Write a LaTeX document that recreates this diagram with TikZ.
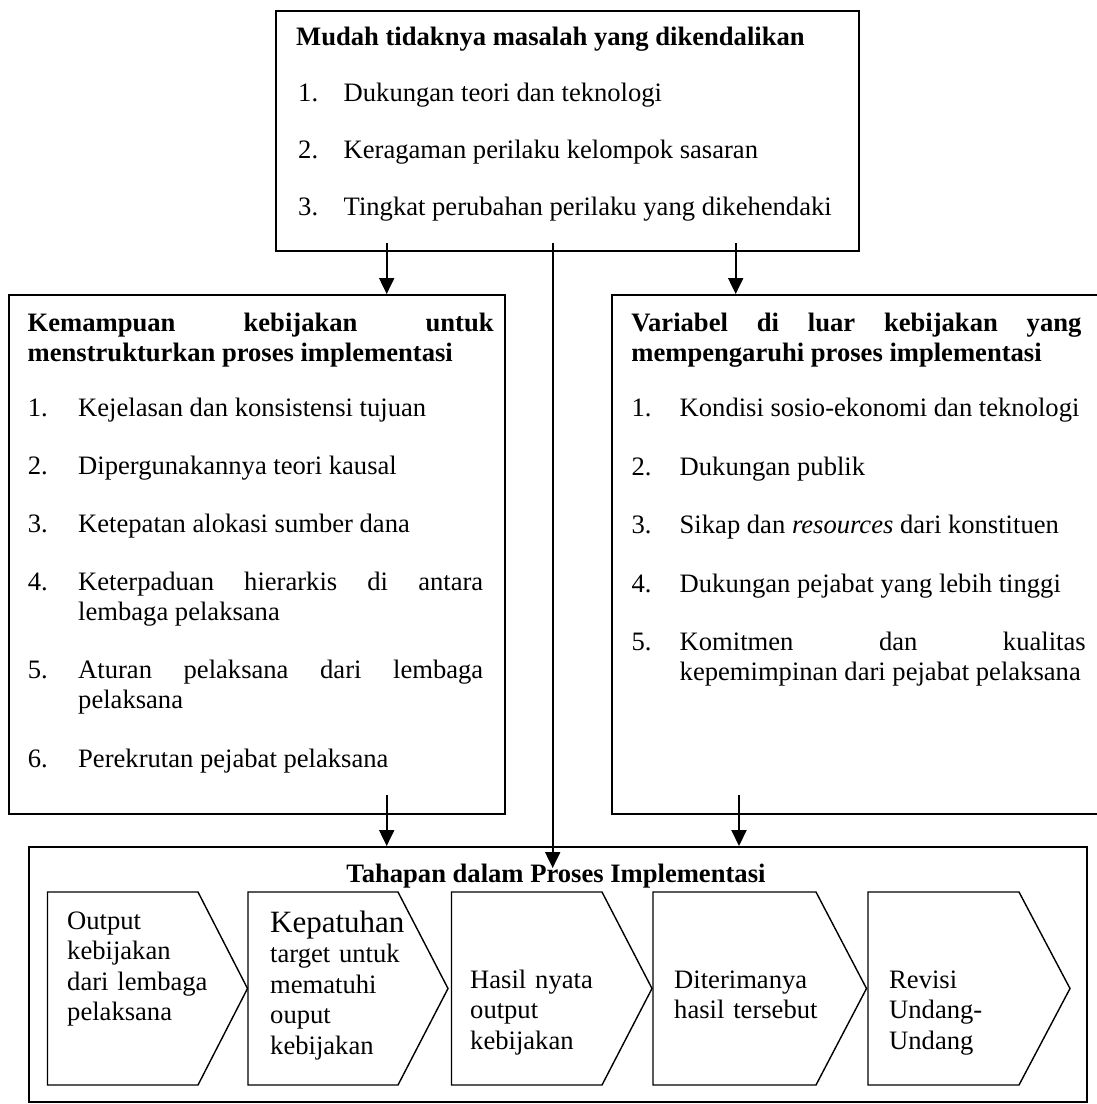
\documentclass[tikz,border=0pt]{standalone}
\usepackage{fontspec}
\setmainfont{Liberation Serif}
\usetikzlibrary{arrows.meta}
\tolerance=10000
\hyphenpenalty=10000
\begin{document}
\begin{tikzpicture}[x=1pt,y=-1pt,
  font=\fontsize{26.6}{30.6}\selectfont,
  box/.style={draw,line width=1.7pt,anchor=north west,inner sep=0pt},
  num/.style={anchor=base west,inner sep=0pt},
  itm/.style={anchor=base west,inner sep=0pt,text width=405pt,align=justify},
  ttl/.style={anchor=base west,inner sep=0pt,font=\fontsize{26.6}{30.6}\selectfont\bfseries},
  arr/.style={line width=2pt,-{Triangle[length=16pt,width=15pt]}},
  chev/.style={draw,line width=1.4pt,line join=miter},
  ctext/.style={anchor=base west,inner sep=0pt,text width=165pt,align=left}
]
\useasboundingbox (0,0) rectangle (1097,1104);

% boxes
\node[box,minimum width=583pt,minimum height=240pt] (top) at (275,10) {};
\node[box,minimum width=496pt,minimum height=519pt] (left) at (8,294) {};
\node[box,minimum width=495pt,minimum height=519pt] (right) at (611,294) {};
\node[box,minimum width=1058pt,minimum height=255pt] (bottom) at (28,846) {};

% top box text
\node[ttl] (t0) at (296,45) {Mudah tidaknya masalah yang dikendalikan};
\node[num] (t1n) at (298,101) {1.};
\node[num] (t1) at (343.5,101) {Dukungan teori dan teknologi};
\node[num] (t2n) at (298,158) {2.};
\node[num] (t2) at (343.5,158) {Keragaman perilaku kelompok sasaran};
\node[num] (t3n) at (298,215) {3.};
\node[num] (t3) at (343.5,215) {Tingkat perubahan perilaku yang dikehendaki};

% left box text
\node[ttl,text width=466pt,align=justify] (l0) at (27.5,331) {Kemampuan kebijakan untuk\linebreak menstrukturkan proses implementasi};
\node[num] (l1n) at (27.7,416) {1.};
\node[itm] (l1) at (78,416) {Kejelasan dan konsistensi tujuan};
\node[num] (l2n) at (27.7,474) {2.};
\node[itm] (l2) at (78,474) {Dipergunakannya teori kausal};
\node[num] (l3n) at (27.7,532) {3.};
\node[itm] (l3) at (78,532) {Ketepatan alokasi sumber dana};
\node[num] (l4n) at (27.7,590) {4.};
\node[itm] (l4) at (78,590) {Keterpaduan hierarkis di antara\linebreak lembaga pelaksana};
\node[num] (l5n) at (27.7,678) {5.};
\node[itm] (l5) at (78,678) {Aturan pelaksana dari lembaga\linebreak pelaksana};
\node[num] (l6n) at (27.7,767) {6.};
\node[itm] (l6) at (78,767) {Perekrutan pejabat pelaksana};

% right box text
\node[ttl,text width=450pt,align=justify] (r0) at (631.2,331) {Variabel di luar kebijakan yang\linebreak mempengaruhi proses implementasi};
\node[num] (r1n) at (631.4,416) {1.};
\node[itm,text width=406pt] (r1) at (679.5,416) {Kondisi sosio-ekonomi dan teknologi};
\node[num] (r2n) at (631.4,475) {2.};
\node[itm,text width=406pt] (r2) at (679.5,475) {Dukungan publik};
\node[num] (r3n) at (631.4,533) {3.};
\node[itm,text width=406pt] (r3) at (679.5,533) {Sikap dan \textit{resources} dari konstituen};
\node[num] (r4n) at (631.4,592) {4.};
\node[itm,text width=406pt] (r4) at (679.5,592) {Dukungan pejabat yang lebih tinggi};
\node[num] (r5n) at (631.4,650) {5.};
\node[itm,text width=406pt] (r5) at (679.5,650) {Komitmen dan kualitas\linebreak kepemimpinan dari pejabat pelaksana};

% bottom box
\node[anchor=base,inner sep=0pt,font=\fontsize{26.6}{30.6}\selectfont\bfseries] (b0) at (556,882) {Tahapan dalam Proses Implementasi};

\draw[chev] (47.5,892) -- (198,892) -- (247.5,988.5) -- (198,1085) -- (47.5,1085) -- cycle;
\draw[chev] (248,892) -- (398,892) -- (448,988.5) -- (398,1085) -- (248,1085) -- cycle;
\draw[chev] (451.5,892) -- (602,892) -- (652,988.5) -- (602,1085) -- (451.5,1085) -- cycle;
\draw[chev] (653,892) -- (816,892) -- (866.5,988.5) -- (816,1085) -- (653,1085) -- cycle;
\draw[chev] (868,892) -- (1019,892) -- (1070,988.5) -- (1019,1085) -- (868,1085) -- cycle;

\node[ctext] (c1) at (67,929) {Output\\kebijakan\\dari lembaga\\pelaksana};
\node[ctext] (c2) at (270,932) {{\fontsize{31}{35}\selectfont Kepatuhan}\\target untuk\\mematuhi\\ouput\\kebijakan};
\node[ctext] (c3) at (470,988) {Hasil nyata\\output\\kebijakan};
\node[ctext] (c4) at (674,988) {Diterimanya\\hasil tersebut};
\node[ctext] (c5) at (889,988) {Revisi\\Undang-\\Undang};

% connectors
\coordinate (a1) at (386.7,243);
\coordinate (a2) at (552.7,243);
\coordinate (a3) at (735.7,243);
\coordinate (m) at (552.7,868);
\coordinate (a4) at (386.7,795);
\coordinate (a5) at (739,795);
\draw[arr] (a1) -- (a1 |- left.north);
\draw[arr] (a3) -- (a3 |- right.north);
\draw[arr] (a2) -- (m);
\draw[arr] (a4) -- (a4 |- bottom.north);
\draw[arr] (a5) -- (a5 |- bottom.north);
\end{tikzpicture}
\end{document}
